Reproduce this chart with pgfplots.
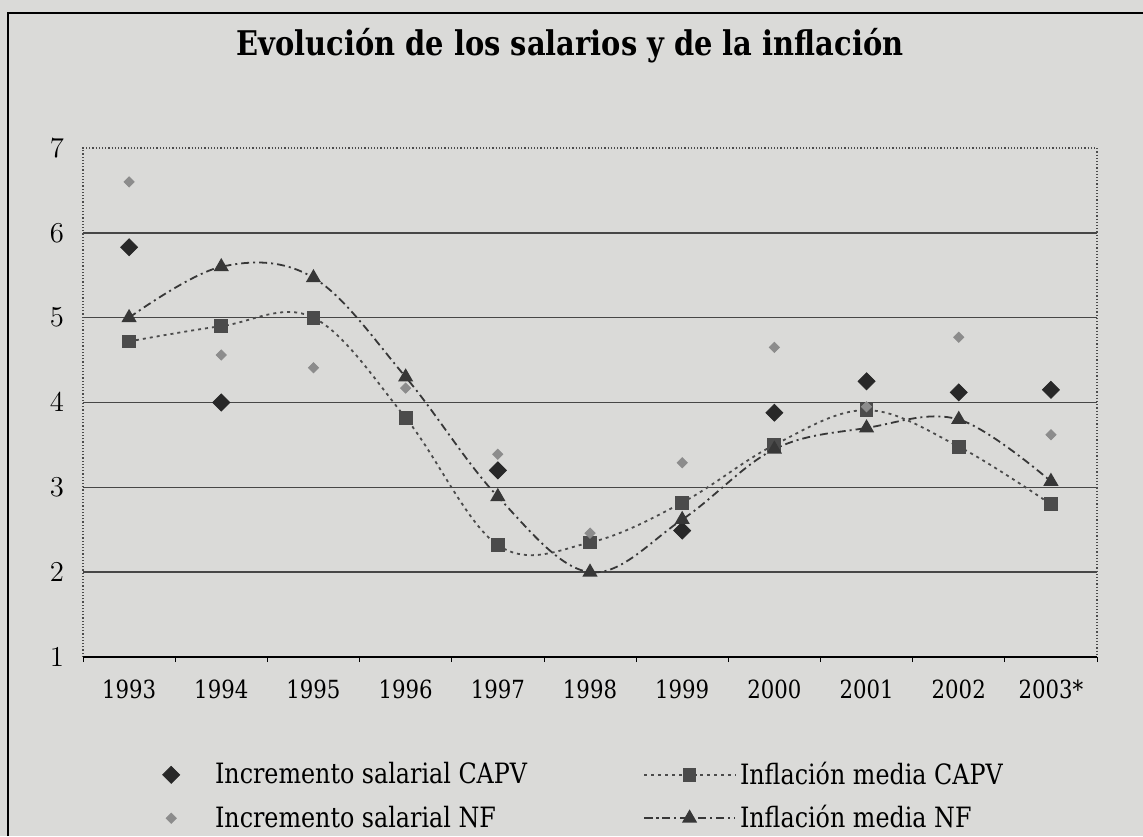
\documentclass[border=0pt]{standalone}
\usepackage{pgfplots}
\pgfplotsset{compat=1.18}
\usepackage{pgfplotstable}
\usepackage{fontspec}
\setmainfont{DejaVu Serif}[FakeStretch=0.85]

\definecolor{bg}{RGB}{218,218,216}
\definecolor{capvsal}{RGB}{40,40,40}
\definecolor{nfsal}{RGB}{140,140,140}
\definecolor{capvinf}{RGB}{75,75,75}
\definecolor{nfinf}{RGB}{55,55,55}
\definecolor{gridc}{RGB}{70,70,70}

\pgfplotsset{
  markonlylegend/.style={legend image code/.code={
      \path[draw=none, fill=none] (0cm,0cm) -- (1.3cm,0cm);
      \draw[##1] plot coordinates {(0.6cm,0cm)};}},
  longlegend/.style={legend image code/.code={
      \draw[mark repeat=2,mark phase=2,##1] plot coordinates {(0cm,0cm) (0.8cm,0cm) (1.6cm,0cm)};}},
}

\pgfplotstableread{
x y
0 5.83
1 4.00
4 3.20
6 2.49
7 3.88
8 4.25
9 4.12
10 4.15
}\capvsaltab

\pgfplotstableread{
x y
0 4.72
1 4.90
2 5.00
3 3.82
4 2.32
5 2.35
6 2.82
7 3.50
8 3.91
9 3.48
10 2.80
}\capvinftab

\pgfplotstableread{
x y
0 6.60
1 4.56
2 4.41
3 4.17
4 3.39
5 2.46
6 3.29
7 4.65
8 3.95
9 4.77
10 3.62
}\nfsaltab

\pgfplotstableread{
x y
0 5.00
1 5.60
2 5.47
3 4.30
4 2.89
5 2.00
6 2.62
7 3.45
8 3.70
9 3.80
10 3.07
}\nfinftab

\begin{document}
\begin{tikzpicture}
\fill[bg] (0,0) rectangle (571.5pt,418pt);
\draw[black, line width=1pt] (4pt,0) -- (4pt,411.5pt) -- (571.5pt,411.5pt);
\node[font=\bfseries\fontsize{17}{19}\selectfont] at (285pt,395pt) {Evolución de los salarios y de la inflación};
\begin{axis}[
  at={(41.5pt,89.5pt)}, anchor=south west,
  scale only axis, width=507pt, height=254.5pt,
  xmin=-0.5, xmax=10.5, ymin=1, ymax=7,
  clip=false,
  axis line style={draw=none},
  xtick={0,...,10},
  xticklabels={1993,1994,1995,1996,1997,1998,1999,2000,2001,2002,2003*},
  minor xtick={-0.5,0.5,...,10.5},
  ytick={2,...,6},
  extra y ticks={1,7},
  extra y tick style={grid=none},
  ymajorgrids, grid style={gridc, line width=0.7pt},
  major tick length=0pt, minor tick length=2.5pt,
  tick align=outside, tick pos=left,
  minor tick style={black, thin},
  tick label style={font=\fontsize{12.5}{14}\selectfont},
  xticklabel style={yshift=-8pt},
  yticklabel style={xshift=-6pt, font=\fontsize{14}{16}\selectfont},
  legend columns=2,
  legend cell align=left,
  legend style={at={(0.047,-0.19)}, anchor=north west, draw=none, fill=none,
    font=\fontsize{14}{16}\selectfont,
    /tikz/every even column/.append style={column sep=56pt},
    /tikz/row sep=5pt},
]
\draw[densely dotted, gray!60!black, line width=0.6pt] (axis cs:-0.5,1) -- (axis cs:-0.5,7) -- (axis cs:10.5,7) -- (axis cs:10.5,1);
\draw[black, line width=0.8pt] (axis cs:-0.5,1) -- (axis cs:10.5,1);

\addplot[only marks, mark=square*, mark size=3pt, mark options={rotate=45, fill=capvsal, draw=capvsal}, markonlylegend] table {\capvsaltab};
\addlegendentry{Incremento salarial CAPV}

\addplot[capvinf, line width=0.9pt, dash pattern=on 1.5pt off 2pt, smooth, tension=0.6, mark=square*, mark size=3pt, mark options={solid, fill=capvinf, draw=capvinf}, longlegend] table {\capvinftab};
\addlegendentry{Inflación media CAPV}

\addplot[only marks, mark=square*, mark size=1.8pt, mark options={rotate=45, fill=nfsal, draw=nfsal}, markonlylegend] table {\nfsaltab};
\addlegendentry{Incremento salarial NF}

\addplot[nfinf, line width=0.9pt, dash pattern=on 4pt off 2pt on 1pt off 2pt, smooth, tension=0.6, mark=triangle*, mark size=3.5pt, mark options={solid, fill=nfinf, draw=nfinf}, longlegend] table {\nfinftab};
\addlegendentry{Inflación media NF}
\end{axis}
\pgfresetboundingbox
\useasboundingbox (0,0) rectangle (571.5pt,418pt);
\end{tikzpicture}
\end{document}
